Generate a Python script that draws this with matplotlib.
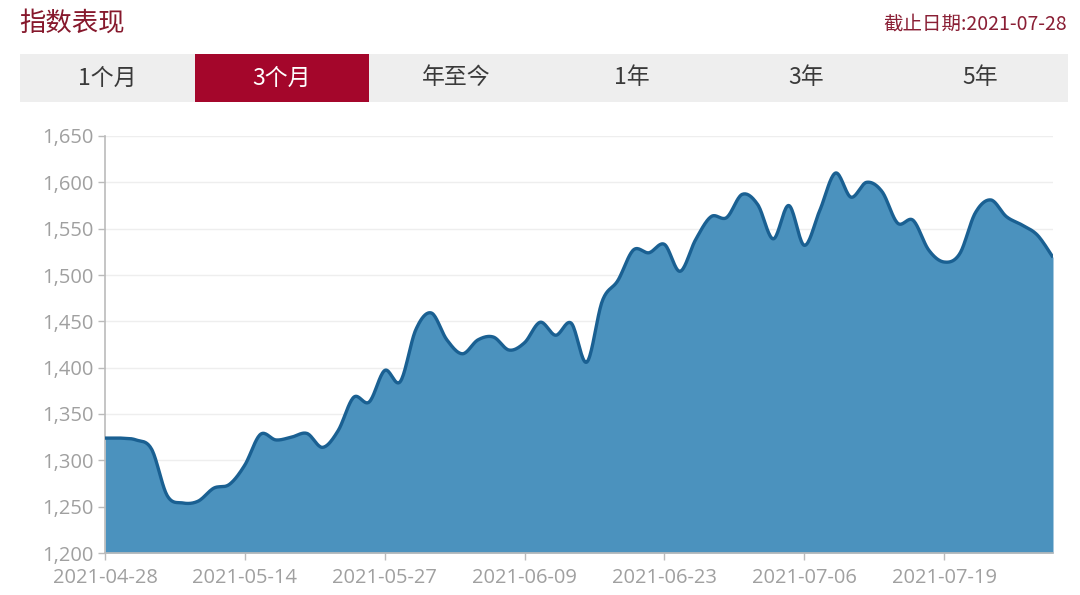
import numpy as np
import matplotlib
matplotlib.use("Agg")
import matplotlib.pyplot as plt
from matplotlib.patches import Rectangle

# ---------------- data ----------------
dates = [
    "2021-04-28", "2021-04-29", "2021-04-30", "2021-05-06", "2021-05-07",
    "2021-05-10", "2021-05-11", "2021-05-12", "2021-05-13", "2021-05-14",
    "2021-05-17", "2021-05-18", "2021-05-19", "2021-05-20", "2021-05-21",
    "2021-05-24", "2021-05-25", "2021-05-26", "2021-05-27", "2021-05-28",
    "2021-05-31", "2021-06-01", "2021-06-02", "2021-06-03", "2021-06-04",
    "2021-06-07", "2021-06-08", "2021-06-09", "2021-06-10", "2021-06-11",
    "2021-06-15", "2021-06-16", "2021-06-17", "2021-06-18", "2021-06-21",
    "2021-06-22", "2021-06-23", "2021-06-24", "2021-06-25", "2021-06-28",
    "2021-06-29", "2021-06-30", "2021-07-01", "2021-07-02", "2021-07-05",
    "2021-07-06", "2021-07-07", "2021-07-08", "2021-07-09", "2021-07-12",
    "2021-07-13", "2021-07-14", "2021-07-15", "2021-07-16", "2021-07-19",
    "2021-07-20", "2021-07-21", "2021-07-22", "2021-07-23", "2021-07-26",
    "2021-07-27", "2021-07-28",
]
values = [
    1324, 1324, 1322, 1312, 1262, 1254, 1256, 1270, 1274, 1295,
    1328, 1322, 1325, 1329, 1314, 1332, 1368, 1363, 1397, 1385,
    1441, 1459, 1430, 1415, 1430, 1433, 1419, 1427, 1449, 1435,
    1448, 1406, 1472, 1494, 1527, 1524, 1533, 1504, 1538, 1563,
    1562, 1587, 1576, 1539, 1575, 1532, 1570, 1610, 1584, 1600,
    1590, 1556, 1559, 1527, 1514, 1523, 1567, 1581, 1563, 1554,
    1543, 1519,
]
tabs = ["1个月", "3个月", "年至今", "1年", "3年", "5年"]
selected_tab = 1
title = "指数表现"
asof = "截止日期:2021-07-28"
yticks = [1200, 1250, 1300, 1350, 1400, 1450, 1500, 1550, 1600, 1650]
xtick_step = 9

# ---------------- figure ----------------
W, H = 1080, 595
fig = plt.figure(figsize=(W / 100, H / 100), dpi=100)
fig.patch.set_facecolor("white")

cjk = ["Noto Sans CJK SC", "DejaVu Sans"]

def fx(px):
    return px / W

def fy(py):
    return 1 - py / H

# header
fig.text(fx(19), fy(23), title, fontsize=19, color="#86182c",
         family=cjk, ha="left", va="center")
fig.text(fx(1067), fy(24), asof, fontsize=14, color="#8a1f35",
         family=cjk, ha="right", va="center")

# tab bar
bar_l, bar_r, bar_t, bar_b = 20, 1068, 54, 102
tab_w = (bar_r - bar_l) / len(tabs)
fig.patches.append(Rectangle((fx(bar_l), fy(bar_b)), fx(bar_r - bar_l),
                             (bar_b - bar_t) / H, transform=fig.transFigure,
                             facecolor="#eeeeee", edgecolor="none", zorder=0))
for k, lab in enumerate(tabs):
    l = bar_l + k * tab_w
    if k == selected_tab:
        fig.patches.append(Rectangle((fx(l), fy(bar_b)), fx(tab_w),
                                     (bar_b - bar_t) / H,
                                     transform=fig.transFigure,
                                     facecolor="#a4062b", edgecolor="none",
                                     zorder=1))
    fig.text(fx(l + tab_w / 2), fy(78), lab, fontsize=16.5,
             color="white" if k == selected_tab else "#3a3a3a",
             family=cjk, ha="center", va="center", zorder=2)

# chart axes
ax_l, ax_r, ax_t, ax_b = 105, 1053, 136, 553
ax = fig.add_axes([fx(ax_l), fy(ax_b), fx(ax_r - ax_l), (ax_b - ax_t) / H])

x = np.arange(len(values))
y = np.array(values, dtype=float)

# Catmull-Rom smoothing for rendering the smooth line
def catmull_rom(xp, yp, n=20):
    P = np.column_stack([xp, yp]).astype(float)
    P = np.vstack([P[0], P, P[-1]])
    out = []
    for i in range(1, len(P) - 2):
        p0, p1, p2, p3 = P[i - 1], P[i], P[i + 1], P[i + 2]
        t = np.linspace(0, 1, n, endpoint=False)[:, None]
        seg = 0.5 * ((2 * p1) + (-p0 + p2) * t +
                     (2 * p0 - 5 * p1 + 4 * p2 - p3) * t ** 2 +
                     (-p0 + 3 * p1 - 3 * p2 + p3) * t ** 3)
        out.append(seg)
    out.append(P[-2][None, :])
    S = np.vstack(out)
    return S[:, 0], S[:, 1]

sx, sy = catmull_rom(x, y)
ax.fill_between(sx, sy, 1200, color="#4b92be", linewidth=0, zorder=2)
ax.plot(sx, sy, color="#1a6092", linewidth=2.4, zorder=3,
        solid_joinstyle="round", solid_capstyle="butt")

ax.set_xlim(0, len(values) - 1)
ax.set_ylim(1200, 1650)
ax.set_yticks(yticks)
ax.set_yticklabels([f"{v:,}" for v in yticks])
tick_idx = list(range(0, len(dates), xtick_step))
ax.set_xticks(tick_idx)
ax.set_xticklabels([dates[i] for i in tick_idx])

ax.grid(axis="y", color="#eeeeee", linewidth=1, zorder=0)
ax.set_axisbelow(True)
for s in ["top", "right"]:
    ax.spines[s].set_visible(False)
ax.spines["left"].set_color("#bbbbbb")
ax.spines["bottom"].set_color("#bbbbbb")
ax.spines["left"].set_linewidth(1.2)
ax.spines["bottom"].set_linewidth(1.2)
ax.tick_params(axis="both", colors="#bbbbbb", labelcolor="#a0a0a0",
               labelsize=14.5, length=5, width=1)
ax.tick_params(axis="y", pad=3)
ax.tick_params(axis="x", pad=6)
for lab in ax.get_xticklabels() + ax.get_yticklabels():
    lab.set_family(["Open Sans", "DejaVu Sans"])

fig.savefig("out.png", dpi=100, facecolor="white")
